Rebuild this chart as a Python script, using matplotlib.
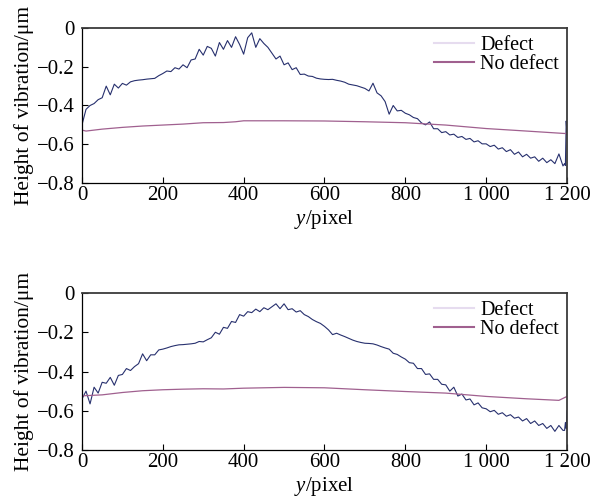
import numpy as np
import matplotlib
matplotlib.use("Agg")
import matplotlib.pyplot as plt
from matplotlib.ticker import FuncFormatter

plt.rcParams['font.family'] = ['Liberation Serif', 'DejaVu Serif']
plt.rcParams['mathtext.fontset'] = 'custom'
plt.rcParams['mathtext.rm'] = 'Liberation Serif'
plt.rcParams['mathtext.it'] = 'Liberation Serif:italic'

# sample positions (pixel) of the measured profiles
x_defect = np.concatenate([np.arange(0, 1200, 10), [1194, 1196, 1198, 1200]])

# upper panel, defect profile
top_defect = [
    -0.50, -0.42, -0.40, -0.39, -0.37, -0.36, -0.30, -0.345, -0.29, -0.31,
    -0.286, -0.295, -0.278, -0.272, -0.269, -0.267, -0.264, -0.262, -0.26, -0.246,
    -0.235, -0.222, -0.225, -0.205, -0.212, -0.19, -0.205, -0.165, -0.16, -0.11,
    -0.14, -0.095, -0.105, -0.145, -0.075, -0.11, -0.065, -0.10, -0.045, -0.085,
    -0.135, -0.05, -0.025, -0.10, -0.055, -0.08, -0.10, -0.13, -0.16, -0.145,
    -0.19, -0.18, -0.215, -0.205, -0.24, -0.238, -0.248, -0.25, -0.259, -0.263,
    -0.265, -0.266, -0.265, -0.27, -0.274, -0.28, -0.29, -0.294, -0.298, -0.305,
    -0.312, -0.325, -0.285, -0.335, -0.35, -0.38, -0.445, -0.40, -0.428, -0.425,
    -0.44, -0.448, -0.462, -0.468, -0.49, -0.50, -0.485, -0.52, -0.52, -0.54,
    -0.535, -0.552, -0.548, -0.565, -0.56, -0.575, -0.57, -0.588, -0.582, -0.598,
    -0.598, -0.612, -0.605, -0.625, -0.618, -0.638, -0.628, -0.652, -0.64, -0.665,
    -0.652, -0.672, -0.665, -0.688, -0.672, -0.695, -0.68, -0.70, -0.65, -0.712,
    -0.70, -0.71, -0.48, -0.55,
]

# lower panel, defect profile
bottom_defect = [
    -0.54, -0.50, -0.565, -0.48, -0.51, -0.455, -0.46, -0.43, -0.47, -0.42,
    -0.415, -0.385, -0.395, -0.375, -0.36, -0.31, -0.345, -0.315, -0.315, -0.29,
    -0.286, -0.28, -0.273, -0.268, -0.264, -0.263, -0.261, -0.259, -0.256, -0.247,
    -0.249, -0.238, -0.228, -0.20, -0.21, -0.175, -0.18, -0.145, -0.15, -0.11,
    -0.118, -0.095, -0.10, -0.082, -0.095, -0.075, -0.085, -0.07, -0.055, -0.08,
    -0.055, -0.085, -0.08, -0.097, -0.09, -0.11, -0.12, -0.135, -0.146, -0.155,
    -0.17, -0.188, -0.212, -0.205, -0.214, -0.222, -0.231, -0.24, -0.247, -0.252,
    -0.256, -0.257, -0.259, -0.265, -0.273, -0.28, -0.286, -0.307, -0.313, -0.326,
    -0.337, -0.355, -0.358, -0.385, -0.385, -0.415, -0.412, -0.44, -0.44, -0.465,
    -0.468, -0.50, -0.48, -0.525, -0.515, -0.545, -0.54, -0.57, -0.56, -0.585,
    -0.59, -0.605, -0.598, -0.618, -0.61, -0.628, -0.62, -0.638, -0.632, -0.652,
    -0.64, -0.665, -0.652, -0.675, -0.665, -0.69, -0.675, -0.705, -0.675, -0.70,
    -0.70, -0.66, -0.69, -0.60,
]

# reference (no defect) profiles
x_top_ok = [0, 10, 50, 100, 150, 200, 250, 300, 350, 380, 400, 450, 500,
            600, 700, 800, 900, 1000, 1100, 1190, 1200]
top_ok = [-0.527, -0.532, -0.522, -0.513, -0.506, -0.501, -0.496, -0.489,
          -0.488, -0.484, -0.479, -0.479, -0.479, -0.48, -0.484, -0.489,
          -0.501, -0.519, -0.532, -0.544, -0.545]

x_bottom_ok = [0, 50, 100, 150, 200, 250, 300, 350, 400, 500, 600, 700,
               800, 900, 1000, 1100, 1180, 1200]
bottom_ok = [-0.524, -0.519, -0.507, -0.498, -0.493, -0.49, -0.488, -0.489,
             -0.485, -0.481, -0.483, -0.493, -0.502, -0.51, -0.527, -0.539,
             -0.547, -0.527]

x_ticks = [0, 200, 400, 600, 800, 1000, 1200]
y_ticks = [-0.8, -0.6, -0.4, -0.2, 0]


def fmt_x(v, pos):
    s = f"{int(v):d}"
    if len(s) > 3:
        s = s[:-3] + " " + s[-3:]
    return s


def fmt_y(v, pos):
    if abs(v) < 1e-9:
        return "0"
    return f"{v:.1f}".replace("-", "\u2212")


fig = plt.figure(figsize=(5.91, 4.99), dpi=100)
ax1 = fig.add_axes([0.1387, 0.6333, 0.8207, 0.3106])
ax2 = fig.add_axes([0.1387, 0.0982, 0.8207, 0.3146])

panels = [(ax1, top_defect, x_top_ok, top_ok),
          (ax2, bottom_defect, x_bottom_ok, bottom_ok)]

for ax, defect, x_ok, ok in panels:
    ax.plot(x_defect, defect, color='#27306e', lw=0.8, label='Defect')
    ax.plot(x_ok, ok, color='#a0608f', lw=0.9, label='No defect')

    ax.set_xlim(0, 1200)
    ax.set_ylim(-0.8, 0)
    ax.set_xticks(x_ticks)
    ax.set_yticks(y_ticks)
    ax.xaxis.set_major_formatter(FuncFormatter(fmt_x))
    ax.yaxis.set_major_formatter(FuncFormatter(fmt_y))
    ax.tick_params(direction='in', length=4, width=0.8, labelsize=15,
                   top=False, right=False)
    ax.tick_params(axis='x', pad=2)
    ax.tick_params(axis='y', pad=5)
    for side in ['top', 'right']:
        ax.spines[side].set_color('#3a3a3a')
        ax.spines[side].set_linewidth(1.3)
    for side in ['left', 'bottom']:
        ax.spines[side].set_linewidth(0.9)

    ax.set_xlabel(r'$y$/pixel', fontsize=15, labelpad=2.5)
    ax.set_ylabel('Height of vibration/\u03bcm', fontsize=15.5, labelpad=2)

    leg = ax.legend(loc='upper right', frameon=False, fontsize=14.5,
                    handlelength=2.0, handletextpad=0.3, labelspacing=0.0,
                    borderaxespad=0.0)
    leg.legend_handles[0].set_color('#e6dcef')
    leg.legend_handles[0].set_linewidth(1.5)
    leg.legend_handles[1].set_linewidth(1.5)

fig.savefig('out.png', dpi=100)
